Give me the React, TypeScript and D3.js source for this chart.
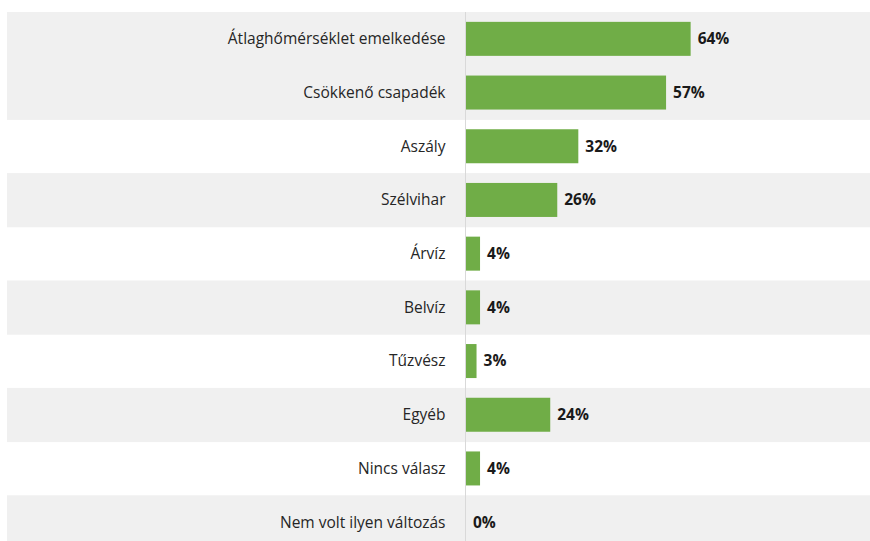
import React, { useEffect, useRef } from "react";
import * as d3 from "d3";

const settings = {
  width: 870,
  height: 541,
  top: 12,
  rowHeight: 53.7,
  axisX: 465.5,
  pxPerPct: 3.51,
  barHeight: 34,
};

const categories: string[] = [
  "Átlaghőmérséklet emelkedése",
  "Csökkenő csapadék",
  "Aszály",
  "Szélvihar",
  "Árvíz",
  "Belvíz",
  "Tűzvész",
  "Egyéb",
  "Nincs válasz",
  "Nem volt ilyen változás",
];
const values: number[] = [64, 57, 32, 26, 4, 4, 3, 24, 4, 0];
const shaded: boolean[] = [true, true, false, true, false, true, false, true, false, true];

const FONT = "'Open Sans', 'Noto Sans', sans-serif";

export default function App() {
  const svgRef = useRef<SVGSVGElement>(null);

  useEffect(() => {
    const svg = d3.select(svgRef.current);
    svg.selectAll("*").remove();

    const y = d3
      .scaleBand<string>()
      .domain(categories)
      .range([settings.top, settings.top + settings.rowHeight * categories.length])
      .paddingInner(0);

    const x = d3
      .scaleLinear()
      .domain([0, 100])
      .range([settings.axisX + 0.5, settings.axisX + 0.5 + settings.pxPerPct * 100]);

    const rows = categories.map((c, i) => ({ c, v: values[i], s: shaded[i] }));

    // row backgrounds
    svg
      .append("g")
      .selectAll("rect")
      .data(rows.filter((d) => d.s))
      .join("rect")
      .attr("x", 7)
      .attr("y", (d) => y(d.c)!)
      .attr("width", settings.width - 7)
      .attr("height", y.bandwidth() + 0.5)
      .attr("fill", "#f0f0f0");

    // axis line
    svg
      .append("line")
      .attr("x1", settings.axisX)
      .attr("x2", settings.axisX)
      .attr("y1", settings.top)
      .attr("y2", settings.height)
      .attr("stroke", "#d9d9d9")
      .attr("stroke-width", 1);

    // bars
    svg
      .append("g")
      .attr("fill", "#70ad47")
      .selectAll("rect")
      .data(rows)
      .join("rect")
      .attr("x", x(0))
      .attr("y", (d) => y(d.c)! + (y.bandwidth() - settings.barHeight) / 2)
      .attr("width", (d) => x(d.v) - x(0))
      .attr("height", settings.barHeight);

    // category labels
    svg
      .append("g")
      .selectAll("text")
      .data(rows)
      .join("text")
      .attr("x", settings.axisX - 20)
      .attr("y", (d) => y(d.c)! + y.bandwidth() / 2)
      .attr("dy", "0.35em")
      .attr("text-anchor", "end")
      .attr("font-family", FONT)
      .attr("font-size", 15.5)
      .attr("fill", "#262626")
      .text((d) => d.c);

    // value labels
    svg
      .append("g")
      .selectAll("text")
      .data(rows)
      .join("text")
      .attr("x", (d) => x(d.v) + 7)
      .attr("y", (d) => y(d.c)! + y.bandwidth() / 2)
      .attr("dy", "0.35em")
      .attr("font-family", FONT)
      .attr("font-size", 15.5)
      .attr("font-weight", "bold")
      .attr("fill", "#1a1a1a")
      .text((d) => `${d.v}%`);
  }, []);

  return (
    <svg
      ref={svgRef}
      width={settings.width}
      height={settings.height}
      style={{ position: "absolute", left: 0, top: 0, background: "#fff" }}
    ></svg>
  );
}
